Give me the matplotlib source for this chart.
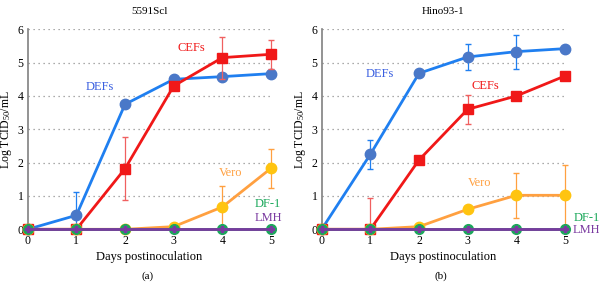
import matplotlib
matplotlib.use("Agg")
import matplotlib.pyplot as plt
import numpy as np

plt.rcParams['font.family'] = ['Liberation Serif', 'DejaVu Serif']
plt.rcParams['mathtext.fontset'] = 'custom'
plt.rcParams['mathtext.rm'] = 'Liberation Serif'
plt.rcParams['mathtext.it'] = 'Liberation Serif:italic'

days = [0, 1, 2, 3, 4, 5]

# Panel (a) 5591Scl
a_def = [0, 0.42, 3.75, 4.5, 4.58, 4.67]
a_def_err = [0, 0.70, 0, 0, 0, 0]
a_cef = [0, 0, 1.82, 4.3, 5.15, 5.25]
a_cef_err = [0, 0, 0.95, 0, 0.63, 0.44]
a_vero = [0, 0, 0, 0.08, 0.67, 1.83]
a_vero_err = [0, 0, 0, 0, 0.62, 0.58]
a_df1 = [0, 0, 0, 0, 0, 0]
a_lmh = [0, 0, 0, 0, 0, 0]

# Panel (b) Hino93-1
b_def = [0, 2.25, 4.68, 5.17, 5.33, 5.42]
b_def_err = [0, 0.43, 0, 0.38, 0.51, 0]
b_cef = [0, 0, 2.08, 3.6, 4.0, 4.6]
b_cef_err = [0, 0.95, 0, 0.44, 0, 0]
b_vero = [0, 0, 0.08, 0.6, 1.02, 1.02]
b_vero_err = [0, 0, 0, 0, 0.67, 0.9]
b_df1 = [0, 0, 0, 0, 0, 0]
b_lmh = [0, 0, 0, 0, 0, 0]

titles = ["5591Scl", "Hino93-1"]
sublabels = ["(a)", "(b)"]

C_DEF_LINE = '#1f7ff0'
C_DEF_MK = '#4a78c8'
C_CEF = '#f01818'
C_CEF_ERR = '#f06060'
C_VERO_LINE = '#ffa040'
C_VERO_MK = '#ffc410'
C_DF1 = '#1aa85a'
C_LMH = '#7a3aa0'

fig = plt.figure(figsize=(5.99, 2.85), dpi=100)
W, H = 599, 285
lefts = [27.7, 321.7]
axw = 243.3
y0px = 229.3
axh = 200.0
ylab_px = [14.5, 307.5]

panels = [
    (a_def, a_def_err, a_cef, a_cef_err, a_vero, a_vero_err, a_df1, a_lmh),
    (b_def, b_def_err, b_cef, b_cef_err, b_vero, b_vero_err, b_df1, b_lmh),
]

label_pos = [
    {"DEFs": (1.48, 4.26), "CEFs": (3.37, 5.43), "Vero": (4.16, 1.68), "DF-1": (4.94, 0.75), "LMH": (4.94, 0.33)},
    {"DEFs": (1.2, 4.66), "CEFs": (3.37, 4.3), "Vero": (3.25, 1.38), "DF-1": (5.44, 0.34), "LMH": (5.44, -0.02)},
]
label_col = {"DEFs": '#3a5fe0', "CEFs": C_CEF, "Vero": C_VERO_LINE, "DF-1": C_DF1, "LMH": C_LMH}


def yerr(vals, errs):
    lo = [min(e, v) for v, e in zip(vals, errs)]
    return [lo, errs]


for i, (d, de, c, ce, v, ve, f, l) in enumerate(panels):
    ax = fig.add_axes([lefts[i] / W, (H - y0px) / H, axw / W, axh / H])
    ax.set_xlim(0, 5)
    ax.set_ylim(0, 6)
    for s in ['top', 'right', 'bottom']:
        ax.spines[s].set_visible(False)
    ax.spines['left'].set_color('#808080')
    ax.spines['left'].set_linewidth(1.2)
    ax.set_yticks([0, 1, 2, 3, 4, 5, 6])
    ax.set_xticks(days)
    ax.tick_params(axis='y', length=0, labelsize=8.5, pad=3)
    ax.tick_params(axis='x', length=2, color='#808080', labelsize=8.5, pad=2)
    for yv in [1, 2, 3, 4, 5, 6]:
        ax.axhline(yv, color='#909090', lw=0.9, ls=(0, (1, 3)), zorder=0)

    ax.errorbar(days, d, yerr=yerr(d, de), color=C_DEF_LINE, ecolor=C_DEF_LINE, elinewidth=0.9, capsize=2.5,
                lw=2, marker='o', ms=7.5, mfc=C_DEF_MK, mec=C_DEF_MK, zorder=3, clip_on=False)
    ax.errorbar(days, c, yerr=yerr(c, ce), color=C_CEF, ecolor=C_CEF_ERR, elinewidth=0.9, capsize=2.5,
                lw=2, marker='s', ms=6.5, mfc=C_CEF, mec=C_CEF, zorder=4, clip_on=False)
    ax.errorbar(days, v, yerr=yerr(v, ve), color=C_VERO_LINE, ecolor=C_VERO_LINE, elinewidth=0.9, capsize=2.5,
                lw=2, marker='o', ms=7.5, mfc=C_VERO_MK, mec=C_VERO_MK, zorder=5, clip_on=False)
    ax.plot(days, f, color=C_DF1, lw=2, marker='o', ms=7, mfc=C_DF1, mec=C_DF1, zorder=6, clip_on=False)
    ax.plot(days, l, color=C_LMH, lw=2, marker='P', ms=4.5, mfc=C_LMH, mec=C_LMH, zorder=7, clip_on=False)

    for name, (x, y) in label_pos[i].items():
        ax.text(x, y, name, color=label_col[name], fontsize=9, ha='center', va='center', clip_on=False)

    ax.set_title(titles[i], fontsize=8, pad=11)
    ax.set_xlabel("Days postinoculation", fontsize=9, labelpad=3)
    ax.set_ylabel("Log TCID$_{50}$/mL", fontsize=8.5)
    ax.yaxis.set_label_coords((ylab_px[i] - lefts[i]) / axw, 0.5)
    cx = (lefts[i] + axw / 2 - 2) / W
    fig.text(cx, 1 - 276 / H, sublabels[i], fontsize=8, ha='center', va='center')

fig.savefig("out.png", dpi=100)
